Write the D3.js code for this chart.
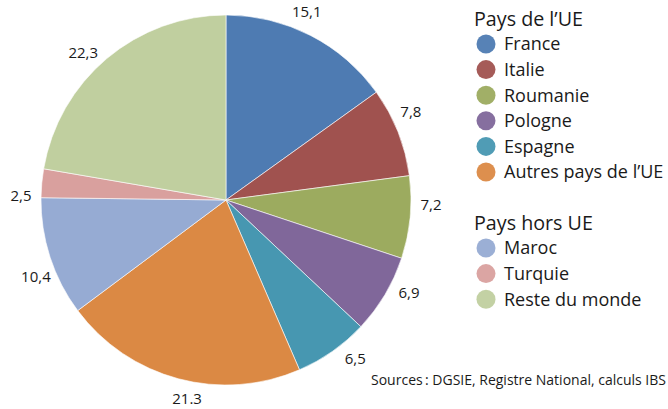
<!DOCTYPE html>
<html>
<head>
<meta charset="utf-8">
<script src="https://cdn.jsdelivr.net/npm/d3@7"></script>
<style>
  body { margin: 0; background: #fff; }
  text { font-family: "Open Sans", "Noto Sans", sans-serif; fill: #1a1a1a; }
</style>
</head>
<body>
<svg id="chart" width="668" height="409"></svg>
<script>
// slices, clockwise from 12 o'clock
var pays = ["France", "Italie", "Roumanie", "Pologne", "Espagne", "Autres pays de l\u2019UE", "Maroc", "Turquie", "Reste du monde"];
var parts = [15.1, 7.8, 7.2, 6.9, 6.5, 21.3, 10.4, 2.5, 22.3];
var etiquettes = ["15,1", "7,8", "7,2", "6,9", "6,5", "21.3", "10,4", "2,5", "22,3"];
var couleurs = ["#4e7bb2", "#a0524f", "#9cab5f", "#80679a", "#4797b1", "#db8944", "#96abd3", "#d9a09e", "#c0cf9f"];

var groupesLegende = [
    { titre: "Pays de l\u2019UE", membres: pays.slice(0, 6) },
    { titre: "Pays hors UE", membres: pays.slice(6) }
];
var source = "Sources\u2009: DGSIE, Registre National, calculs IBS";

var svg = d3.select("#chart");
var W = 668, H = 409;
var cx = 226, cy = 200, radius = 185;

var color = d3.scaleOrdinal().domain(pays).range(couleurs);

var pie = d3.pie().sort(null).value((d) => d.v);
var arcs = pie(pays.map((p, i) => ({ p: p, v: parts[i], lab: etiquettes[i] })));

var arc = d3.arc().innerRadius(0).outerRadius(radius);

// labels sit outside the rim, turned a little anticlockwise like the original
var labelR = 205, labelShift = -4 * Math.PI / 180;
function labelPos(d) {
    var a = (d.startAngle + d.endAngle) / 2 + labelShift;
    var y = -labelR * Math.cos(a);
    y = Math.min(y, H - cy - 10);   // keep the bottom label inside the frame
    return [labelR * Math.sin(a), y];
}

var g = svg.append("g").attr("transform", `translate(${cx},${cy})`);

g.selectAll("path")
    .data(arcs)
    .enter().append("path")
    .attr("d", arc)
    .attr("fill", (d) => color(d.data.p))
    .attr("stroke", "#fff")
    .attr("stroke-width", 0.6);

g.selectAll("text.val")
    .data(arcs)
    .enter().append("text")
    .attr("class", "val")
    .attr("transform", (d) => `translate(${labelPos(d)})`)
    .attr("text-anchor", "middle")
    .attr("dy", "0.35em")
    .style("font-size", "15px")
    .text((d) => d.data.lab);

// legend
var leg = svg.append("g").attr("transform", "translate(474,0)");
var yTitres = [26, 230];
var yPremier = [44, 248];
var pas = 25.6;

groupesLegende.forEach(function (grp, k) {
    leg.append("text")
        .attr("x", 0)
        .attr("y", yTitres[k])
        .style("font-size", "19.7px")
        .text(grp.titre);

    var items = leg.selectAll("g.it" + k)
        .data(grp.membres)
        .enter().append("g")
        .attr("class", "it" + k)
        .attr("transform", (d, i) => `translate(0,${yPremier[k] + i * pas})`);

    items.append("circle")
        .attr("cx", 12)
        .attr("r", 9.5)
        .attr("fill", (d) => color(d))
        .attr("opacity", 0.95);

    items.append("text")
        .attr("x", 30)
        .attr("dy", "0.36em")
        .style("font-size", "18px")
        .text((d) => d);
});

svg.append("text")
    .attr("x", 666)
    .attr("y", 385)
    .attr("text-anchor", "end")
    .style("font-size", "14px")
    .text(source);
</script>
</body>
</html>
